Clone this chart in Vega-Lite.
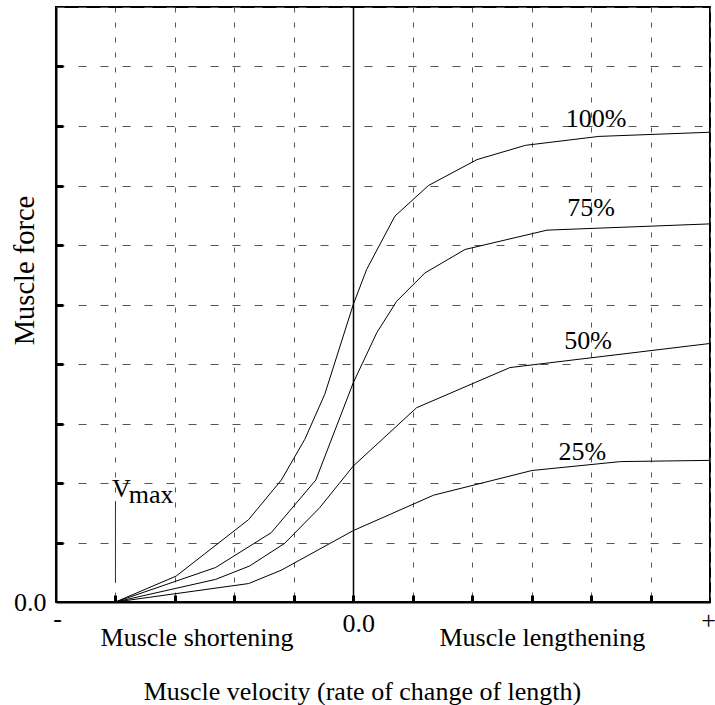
{
  "$schema": "https://vega.github.io/schema/vega-lite/v6.json",
  "width": 654,
  "height": 595,
  "autosize": {"type": "none"},
  "padding": {"left": 56, "top": 7, "right": 5, "bottom": 103},
  "background": "white",
  "config": {
    "font": "Liberation Serif",
    "view": {"stroke": "black", "strokeWidth": 2}
  },
  "datasets": {
    "curves": [
      {"activation": "100%", "velocity": -8, "force": 0},
      {"activation": "100%", "velocity": -5.96, "force": 0.87},
      {"activation": "100%", "velocity": -3.52, "force": 2.77},
      {"activation": "100%", "velocity": -2.42, "force": 4.1},
      {"activation": "100%", "velocity": -1.63, "force": 5.47},
      {"activation": "100%", "velocity": -0.96, "force": 6.98},
      {"activation": "100%", "velocity": 0, "force": 10.0},
      {"activation": "100%", "velocity": 0.45, "force": 11.18},
      {"activation": "100%", "velocity": 1.4, "force": 12.97},
      {"activation": "100%", "velocity": 2.53, "force": 14.0},
      {"activation": "100%", "velocity": 4.16, "force": 14.87},
      {"activation": "100%", "velocity": 5.79, "force": 15.35},
      {"activation": "100%", "velocity": 8.26, "force": 15.65},
      {"activation": "100%", "velocity": 12, "force": 15.79},
      {"activation": "75%", "velocity": -8, "force": 0},
      {"activation": "75%", "velocity": -4.63, "force": 1.16},
      {"activation": "75%", "velocity": -2.76, "force": 2.33},
      {"activation": "75%", "velocity": -1.26, "force": 4.1},
      {"activation": "75%", "velocity": 0, "force": 7.37},
      {"activation": "75%", "velocity": 0.79, "force": 9.05},
      {"activation": "75%", "velocity": 1.46, "force": 10.11},
      {"activation": "75%", "velocity": 2.41, "force": 11.06},
      {"activation": "75%", "velocity": 3.76, "force": 11.85},
      {"activation": "75%", "velocity": 6.52, "force": 12.5},
      {"activation": "75%", "velocity": 12, "force": 12.71},
      {"activation": "50%", "velocity": -8, "force": 0},
      {"activation": "50%", "velocity": -4.63, "force": 0.76},
      {"activation": "50%", "velocity": -3.49, "force": 1.21},
      {"activation": "50%", "velocity": -2.31, "force": 1.97},
      {"activation": "50%", "velocity": -1.13, "force": 3.17},
      {"activation": "50%", "velocity": 0, "force": 4.57},
      {"activation": "50%", "velocity": 2.13, "force": 6.53},
      {"activation": "50%", "velocity": 5.27, "force": 7.88},
      {"activation": "50%", "velocity": 12, "force": 8.69},
      {"activation": "25%", "velocity": -8, "force": 0},
      {"activation": "25%", "velocity": -3.52, "force": 0.62},
      {"activation": "25%", "velocity": -2.42, "force": 1.07},
      {"activation": "25%", "velocity": 0, "force": 2.4},
      {"activation": "25%", "velocity": 2.7, "force": 3.59},
      {"activation": "25%", "velocity": 6.01, "force": 4.42},
      {"activation": "25%", "velocity": 8.99, "force": 4.72},
      {"activation": "25%", "velocity": 12, "force": 4.76}
    ],
    "labels": [
      {"text": "100%", "x": 7.15, "y": 15.95},
      {"text": "75%", "x": 7.2, "y": 12.99},
      {"text": "50%", "x": 7.1, "y": 8.49},
      {"text": "25%", "x": 6.9, "y": 4.76},
      {"text": "V", "x": -8.12, "y": 3.54},
      {"text": "max", "x": -7.55, "y": 3.34},
      {"text": "Muscle shortening", "x": -8.5, "y": -1.48},
      {"text": "Muscle lengthening", "x": 2.9, "y": -1.49}
    ],
    "vmax": [
      {"x": -8, "y": 0.65, "y2": 3.39}
    ]
  },
  "layer": [
    {
      "data": {"name": "curves"},
      "mark": {"type": "line", "color": "black", "strokeWidth": 1},
      "encoding": {
        "x": {
          "field": "velocity",
          "type": "quantitative",
          "scale": {"domain": [-10, 12], "nice": false, "zero": false},
          "axis": {
            "values": [-10, -9, -8, -7, -6, -5, -4, -3, -2, -1, 0, 1, 2, 3, 4, 5, 6, 7, 8, 9, 10, 11, 12],
            "title": "Muscle velocity (rate of change of length)",
            "titleFont": "Liberation Serif",
            "titleFontSize": 26,
            "titleFontWeight": "normal",
            "titleColor": "black",
            "titleX": 306,
            "titleY": 97,
            "titleAlign": "center",
            "titleBaseline": "alphabetic",
            "grid": true,
            "gridColor": {"expr": "datum.value === 0 ? 'black' : '#555555'"},
            "gridDash": {"expr": "datum.value === 0 ? [] : [5, 10]"},
            "gridWidth": {"expr": "datum.value === 0 ? 1.5 : 1"},
            "tickSize": {"expr": "(datum.value % 2 === 0 && datum.value > -10 && datum.value < 12) ? -7 : 0"},
            "tickWidth": 3,
            "tickColor": "black",
            "domainColor": "black",
            "domainWidth": 2,
            "labelExpr": "datum.value === 0 ? '0.0' : (datum.value === -10 ? '-' : (datum.value === 12 ? '+' : ''))",
            "labelFont": "Liberation Serif",
            "labelFontSize": 26,
            "labelColor": "black",
            "labelBaseline": "alphabetic",
            "labelPadding": {"expr": "datum.value === 0 ? 36 : (datum.value === -10 ? 24 : 26)"},
            "labelOffset": {"expr": "datum.value === 0 ? 5 : (datum.value === 12 ? -2 : 1)"},
            "labelFlush": false,
            "labelOverlap": false
          }
        },
        "y": {
          "field": "force",
          "type": "quantitative",
          "scale": {"domain": [0, 20], "nice": false},
          "axis": {
            "values": [0, 1, 2, 3, 4, 5, 6, 7, 8, 9, 10, 11, 12, 13, 14, 15, 16, 17, 18, 19, 20],
            "title": "Muscle force",
            "titleFont": "Liberation Serif",
            "titleFontSize": 28.5,
            "titleFontWeight": "normal",
            "titleColor": "black",
            "titleX": -23,
            "titleY": 263,
            "titleAlign": "center",
            "titleBaseline": "alphabetic",
            "titleAngle": -90,
            "grid": true,
            "gridColor": "#555555",
            "gridDash": [8, 14],
            "gridWidth": 1,
            "tickSize": {"expr": "(datum.value % 2 === 0 && datum.value > 0 && datum.value < 20) ? -7 : 0"},
            "tickWidth": 3,
            "tickColor": "black",
            "domainColor": "black",
            "domainWidth": 2,
            "labelExpr": "datum.value === 0 ? '0.0' : ''",
            "labelFont": "Liberation Serif",
            "labelFontSize": 26,
            "labelColor": "black",
            "labelBaseline": "alphabetic",
            "labelPadding": 10,
            "labelOffset": 8,
            "labelOverlap": false
          }
        },
        "detail": {"field": "activation"}
      }
    },
    {
      "data": {"name": "vmax"},
      "mark": {"type": "rule", "color": "#333333", "strokeWidth": 1},
      "encoding": {
        "x": {"field": "x", "type": "quantitative"},
        "y": {"field": "y", "type": "quantitative"},
        "y2": {"field": "y2"}
      }
    },
    {
      "data": {"name": "labels"},
      "mark": {"type": "text", "align": "left", "baseline": "alphabetic", "fontSize": 26, "color": "black", "font": "Liberation Serif"},
      "encoding": {
        "x": {"field": "x", "type": "quantitative"},
        "y": {"field": "y", "type": "quantitative"},
        "text": {"field": "text"}
      }
    }
  ]
}
